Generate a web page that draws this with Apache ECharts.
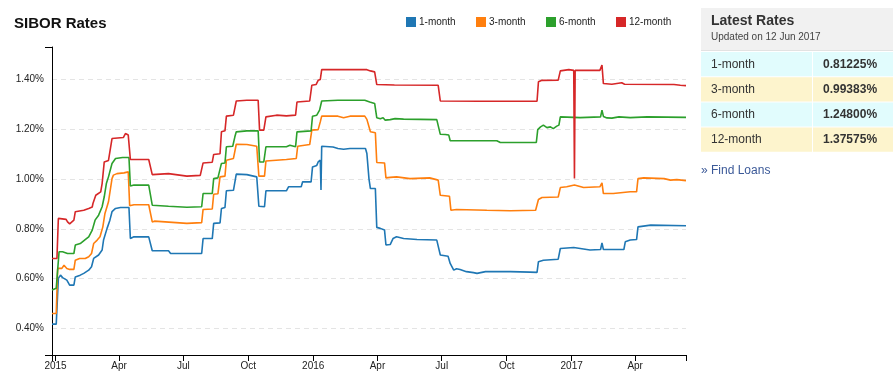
<!DOCTYPE html>
<html><head><meta charset="utf-8">
<script src="https://cdn.jsdelivr.net/npm/echarts@6/dist/echarts.min.js"></script>
<style>html,body{margin:0;padding:0;background:#fff}#c{width:893px;height:384px}</style>
</head><body><div id="c"></div>
<script>
const seriesNames = ['1-month', '3-month', '6-month', '12-month'];
const seriesColors = ['#1f77b4', '#ff7f0e', '#2ca02c', '#d62728'];

const oneMonth = [
['2014-12-27',0.417],['2015-01-02',0.417],['2015-01-05',0.601],['2015-01-08',0.614],['2015-01-11',0.604],['2015-01-13',0.610],['2015-01-17',0.594],['2015-01-21',0.574],['2015-01-27',0.574],['2015-01-29',0.607],['2015-02-05',0.614],['2015-02-10',0.621],['2015-02-17',0.634],['2015-02-21',0.648],['2015-02-24',0.681],['2015-03-03',0.695],['2015-03-08',0.715],['2015-03-10',0.755],['2015-03-15',0.802],['2015-03-19',0.835],['2015-03-22',0.869],['2015-03-27',0.882],['2015-04-03',0.886],['2015-04-15',0.886],['2015-04-17',0.761],['2015-04-22',0.768],['2015-05-13',0.768],['2015-05-18',0.712],['2015-05-20',0.708],['2015-06-10',0.712],['2015-06-13',0.701],['2015-07-27',0.701],['2015-07-29',0.761],['2015-08-11',0.761],['2015-08-13',0.822],['2015-08-22',0.824],['2015-08-24',0.882],['2015-08-29',0.886],['2015-08-31',0.953],['2015-09-10',0.955],['2015-09-14',1.020],['2015-09-29',1.018],['2015-10-13',1.009],['2015-10-16',0.891],['2015-10-24',0.889],['2015-10-26',0.953],['2015-11-24',0.953],['2015-11-27',0.969],['2015-12-15',0.969],['2015-12-17',0.989],['2015-12-29',0.989],['2015-12-31',1.049],['2016-01-06',1.055],['2016-01-08',1.069],['2016-01-11',1.076],['2016-01-12',0.956],['2016-01-13',1.132],['2016-01-29',1.129],['2016-02-05',1.123],['2016-02-13',1.120],['2016-02-22',1.123],['2016-03-15',1.123],['2016-03-17',1.103],['2016-03-20',1.000],['2016-03-22',0.962],['2016-03-29',0.962],['2016-03-31',0.806],['2016-04-05',0.802],['2016-04-11',0.795],['2016-04-13',0.735],['2016-04-19',0.737],['2016-04-23',0.761],['2016-04-28',0.768],['2016-05-08',0.761],['2016-05-27',0.757],['2016-06-24',0.755],['2016-06-26',0.752],['2016-06-29',0.695],['2016-07-10',0.690],['2016-07-13',0.661],['2016-07-18',0.634],['2016-07-22',0.640],['2016-07-27',0.637],['2016-08-05',0.628],['2016-08-15',0.624],['2016-08-20',0.621],['2016-09-01',0.628],['2016-10-06',0.628],['2016-11-03',0.626],['2016-11-13',0.625],['2016-11-15',0.668],['2016-11-22',0.674],['2016-12-13',0.678],['2016-12-16',0.721],['2017-01-04',0.725],['2017-01-06',0.717],['2017-01-27',0.715],['2017-02-11',0.717],['2017-02-13',0.744],['2017-02-15',0.717],['2017-03-16',0.717],['2017-03-18',0.748],['2017-03-25',0.755],['2017-04-03',0.757],['2017-04-05',0.808],['2017-04-23',0.815],['2017-06-12',0.81225]
];

const threeMonth = [
['2014-12-27',0.460],['2015-01-02',0.460],['2015-01-04',0.641],['2015-01-10',0.641],['2015-01-13',0.654],['2015-01-15',0.656],['2015-01-17',0.641],['2015-01-21',0.637],['2015-01-27',0.637],['2015-01-29',0.674],['2015-02-04',0.681],['2015-02-12',0.681],['2015-02-17',0.688],['2015-02-21',0.701],['2015-02-24',0.741],['2015-03-01',0.755],['2015-03-05',0.768],['2015-03-09',0.808],['2015-03-12',0.862],['2015-03-17',0.909],['2015-03-22',1.002],['2015-03-24',1.016],['2015-03-29',1.022],['2015-04-08',1.025],['2015-04-14',1.029],['2015-04-16',0.893],['2015-04-22',0.897],['2015-05-13',0.897],['2015-05-18',0.828],['2015-05-21',0.831],['2015-07-06',0.822],['2015-07-27',0.825],['2015-07-29',0.878],['2015-08-11',0.880],['2015-08-13',0.939],['2015-08-19',0.941],['2015-08-22',1.009],['2015-08-29',1.012],['2015-08-31',1.076],['2015-09-10',1.083],['2015-09-14',1.140],['2015-09-29',1.139],['2015-10-13',1.132],['2015-10-16',1.012],['2015-10-24',1.012],['2015-10-26',1.073],['2015-11-24',1.079],['2015-12-08',1.083],['2015-12-10',1.132],['2015-12-27',1.139],['2015-12-30',1.197],['2016-01-08',1.199],['2016-01-11',1.230],['2016-01-13',1.253],['2016-02-05',1.253],['2016-02-13',1.247],['2016-02-22',1.253],['2016-03-14',1.253],['2016-03-17',1.240],['2016-03-22',1.190],['2016-03-29',1.186],['2016-03-31',1.067],['2016-04-11',1.065],['2016-04-13',1.005],['2016-04-19',1.007],['2016-04-28',1.009],['2016-05-17',1.002],['2016-06-14',1.005],['2016-06-26',0.996],['2016-06-29',0.935],['2016-07-12',0.931],['2016-07-14',0.875],['2016-07-22',0.878],['2016-09-03',0.875],['2016-10-06',0.873],['2016-11-11',0.875],['2016-11-15',0.918],['2016-11-20',0.926],['2016-12-13',0.928],['2016-12-16',0.966],['2016-12-25',0.969],['2017-01-05',0.976],['2017-01-18',0.966],['2017-02-10',0.969],['2017-02-13',0.985],['2017-02-15',0.942],['2017-03-01',0.942],['2017-03-25',0.949],['2017-04-03',0.949],['2017-04-05',1.002],['2017-04-13',1.005],['2017-05-12',1.002],['2017-05-21',0.996],['2017-05-30',0.998],['2017-06-12',0.99383]
];

const sixMonth = [
['2014-12-27',0.554],['2015-01-02',0.561],['2015-01-06',0.708],['2015-01-11',0.708],['2015-01-15',0.704],['2015-01-18',0.701],['2015-01-27',0.701],['2015-01-29',0.735],['2015-02-05',0.741],['2015-02-12',0.757],['2015-02-17',0.768],['2015-02-22',0.795],['2015-02-26',0.835],['2015-03-03',0.855],['2015-03-08',0.889],['2015-03-11',0.929],['2015-03-14',0.982],['2015-03-17',1.009],['2015-03-22',1.063],['2015-03-27',1.083],['2015-04-06',1.087],['2015-04-15',1.087],['2015-04-17',0.972],['2015-04-22',0.976],['2015-05-13',0.976],['2015-05-15',0.982],['2015-05-18',0.895],['2015-06-10',0.891],['2015-07-06',0.887],['2015-07-27',0.889],['2015-07-29',0.942],['2015-08-11',0.942],['2015-08-13',1.002],['2015-08-19',1.005],['2015-08-24',1.063],['2015-08-29',1.065],['2015-08-31',1.130],['2015-09-09',1.132],['2015-09-12',1.170],['2015-09-14',1.190],['2015-09-29',1.194],['2015-10-15',1.194],['2015-10-17',1.069],['2015-10-23',1.069],['2015-10-26',1.130],['2015-11-24',1.130],['2015-11-29',1.136],['2015-12-07',1.130],['2015-12-09',1.190],['2015-12-29',1.194],['2015-12-31',1.253],['2016-01-06',1.257],['2016-01-10',1.277],['2016-01-13',1.314],['2016-02-05',1.317],['2016-03-14',1.317],['2016-03-21',1.310],['2016-03-28',1.304],['2016-03-31',1.247],['2016-04-05',1.243],['2016-04-09',1.247],['2016-04-12',1.237],['2016-04-19',1.239],['2016-04-26',1.243],['2016-05-08',1.241],['2016-06-24',1.239],['2016-06-29',1.180],['2016-07-06',1.179],['2016-07-11',1.177],['2016-07-13',1.154],['2016-09-08',1.154],['2016-09-10',1.150],['2016-09-17',1.154],['2016-09-22',1.147],['2016-11-12',1.147],['2016-11-14',1.199],['2016-11-18',1.210],['2016-11-22',1.217],['2016-11-27',1.207],['2016-12-02',1.210],['2016-12-06',1.203],['2016-12-11',1.213],['2016-12-14',1.217],['2016-12-16',1.250],['2017-01-13',1.247],['2017-02-11',1.250],['2017-02-13',1.277],['2017-02-15',1.252],['2017-02-20',1.246],['2017-02-27',1.245],['2017-03-09',1.250],['2017-03-25',1.247],['2017-04-18',1.250],['2017-06-12',1.248]
];

const twelveMonth = [
['2014-12-27',0.681],['2015-01-03',0.681],['2015-01-05',0.842],['2015-01-16',0.838],['2015-01-18',0.828],['2015-01-21',0.820],['2015-01-23',0.828],['2015-01-27',0.835],['2015-01-29',0.869],['2015-02-10',0.875],['2015-02-17',0.882],['2015-02-22',0.888],['2015-02-23',0.902],['2015-02-27',0.935],['2015-03-06',0.949],['2015-03-08',0.982],['2015-03-11',1.069],['2015-03-17',1.075],['2015-03-22',1.163],['2015-04-07',1.167],['2015-04-10',1.183],['2015-04-14',1.177],['2015-04-17',1.079],['2015-05-13',1.079],['2015-05-18',1.018],['2015-06-10',1.022],['2015-07-06',1.012],['2015-07-25',1.015],['2015-07-29',1.065],['2015-08-11',1.068],['2015-08-13',1.099],['2015-08-22',1.102],['2015-08-24',1.190],['2015-08-29',1.194],['2015-08-31',1.253],['2015-09-10',1.257],['2015-09-14',1.314],['2015-09-29',1.317],['2015-10-15',1.317],['2015-10-17',1.197],['2015-10-23',1.197],['2015-10-26',1.250],['2015-11-10',1.257],['2015-11-24',1.254],['2015-12-07',1.257],['2015-12-09',1.310],['2015-12-27',1.314],['2015-12-30',1.377],['2016-01-05',1.380],['2016-01-08',1.397],['2016-01-11',1.400],['2016-01-13',1.440],['2016-03-17',1.440],['2016-03-22',1.435],['2016-03-28',1.431],['2016-03-31',1.380],['2016-04-25',1.378],['2016-06-26',1.377],['2016-06-29',1.314],['2016-08-23',1.313],['2016-11-13',1.313],['2016-11-15',1.391],['2016-11-20',1.397],['2016-12-13',1.398],['2016-12-16',1.435],['2016-12-28',1.440],['2017-01-04',1.437],['2017-01-05',1.002],['2017-01-06',1.437],['2017-02-10',1.437],['2017-02-13',1.458],['2017-02-15',1.384],['2017-02-27',1.381],['2017-03-13',1.387],['2017-03-17',1.381],['2017-05-26',1.380],['2017-06-04',1.377],['2017-06-12',1.37575]
];

const seriesData = [oneMonth, threeMonth, sixMonth, twelveMonth];

const xStart = '2014-12-27';
const xEnd = '2017-06-12';
const xLabelDates = ['2015-01-01','2015-04-01','2015-07-01','2015-10-01','2016-01-01','2016-04-01','2016-07-01','2016-10-01','2017-01-01','2017-04-01'];
const monthNames = ['Jan','Feb','Mar','Apr','May','Jun','Jul','Aug','Sep','Oct','Nov','Dec'];

const yMin = 0.293, yMax = 1.531;
const yTickValues = [0.4, 0.6, 0.8, 1.0, 1.2, 1.4];

const rateLabels = ['1-month', '3-month', '6-month', '12-month'];
const rateValues = ['0.81225%', '0.99383%', '1.24800%', '1.37575%'];
const rowFills = ['#e1fcfd', '#fdf4cd', '#e1fcfd', '#fdf4cd'];

const FONT = 'Arial, "Liberation Sans", sans-serif';
const ts = s => Date.parse(s + 'T00:00:00Z');

const chart = echarts.init(document.getElementById('c'), null, {renderer: 'canvas'});

const graphics = [
  {type: 'rect', shape: {x: 701, y: 8, width: 192, height: 43}, style: {fill: '#f1f1f1'}},
  {type: 'rect', shape: {x: 701, y: 50, width: 192, height: 1}, style: {fill: '#e2e2e2'}},
  {type: 'text', x: 711, y: 21, style: {text: 'Latest Rates', font: 'bold 14px ' + FONT, fill: '#333', verticalAlign: 'middle'}},
  {type: 'text', x: 711, y: 37.5, style: {text: 'Updated on 12 Jun 2017', font: '10px ' + FONT, fill: '#444', verticalAlign: 'middle'}},
  {type: 'text', x: 701, y: 171, style: {text: '» Find Loans', font: '12px ' + FONT, fill: '#3b5998', verticalAlign: 'middle'}}
];
rateLabels.forEach((lab, i) => {
  const top = 52 + i * 25.2;
  graphics.push({type: 'rect', shape: {x: 701, y: top, width: 111, height: 24.2}, style: {fill: rowFills[i]}});
  graphics.push({type: 'rect', shape: {x: 813, y: top, width: 80, height: 24.2}, style: {fill: rowFills[i]}});
  graphics.push({type: 'text', x: 711, y: top + 12.5, style: {text: lab, font: '12px ' + FONT, fill: '#333', verticalAlign: 'middle'}});
  graphics.push({type: 'text', x: 823, y: top + 12.5, style: {text: rateValues[i], font: 'bold 12px ' + FONT, fill: '#333', verticalAlign: 'middle'}});
});

const legendLefts = [406, 476, 546, 616];
const xTickValues = [xStart].concat(xLabelDates, [xEnd]).map(ts);

chart.setOption({
  animation: false,
  backgroundColor: '#fff',
  title: {text: 'SIBOR Rates', left: 9, top: 11, textStyle: {fontSize: 15, fontWeight: 'bold', color: '#111', fontFamily: FONT}},
  legend: seriesNames.map((n, i) => ({
    data: [n], left: legendLefts[i], top: 17, itemWidth: 10, itemHeight: 10, itemGap: 0, icon: 'rect',
    padding: 0, textStyle: {fontSize: 10, color: '#222', fontFamily: FONT, padding: [0, 0, 0, -2]}
  })),
  grid: {left: 52, right: 207, top: 47, bottom: 29},
  xAxis: {
    type: 'value', min: ts(xStart), max: ts(xEnd),
    axisLine: {show: true, onZero: false, lineStyle: {color: '#000', width: 1}},
    axisTick: {show: true, length: 6, lineStyle: {color: '#000'}, customValues: xTickValues},
    axisLabel: {customValues: xLabelDates.map(ts), margin: 6, fontSize: 10, color: '#222', fontFamily: FONT,
      formatter: v => { const d = new Date(v); return d.getUTCMonth() === 0 ? String(d.getUTCFullYear()) : monthNames[d.getUTCMonth()]; }},
    splitLine: {show: false}
  },
  yAxis: [{
    type: 'value', min: yMin, max: yMax,
    axisLine: {show: true, onZero: false, lineStyle: {color: '#000', width: 1}},
    axisTick: {show: false, customValues: yTickValues},
    axisLabel: {customValues: yTickValues, margin: 8, fontSize: 10, color: '#222', fontFamily: FONT, formatter: v => v.toFixed(2) + '%'},
    splitLine: {show: true, lineStyle: {color: '#e4e4e4', type: [5, 4], width: 1}}
  }, {
    type: 'value', min: yMin, max: yMax, position: 'left',
    axisLine: {show: false},
    axisTick: {show: true, length: 7, lineStyle: {color: '#000'}, customValues: [yMin, yMax]},
    axisLabel: {show: false},
    splitLine: {show: false}
  }],
  series: seriesData.map((d, i) => ({
    name: seriesNames[i], type: 'line', data: d.map(p => [ts(p[0]), p[1]]), showSymbol: false, symbol: 'none',
    lineStyle: {width: 1.6, color: seriesColors[i]}, itemStyle: {color: seriesColors[i]}
  })),
  graphic: graphics
});
</script></body></html>
